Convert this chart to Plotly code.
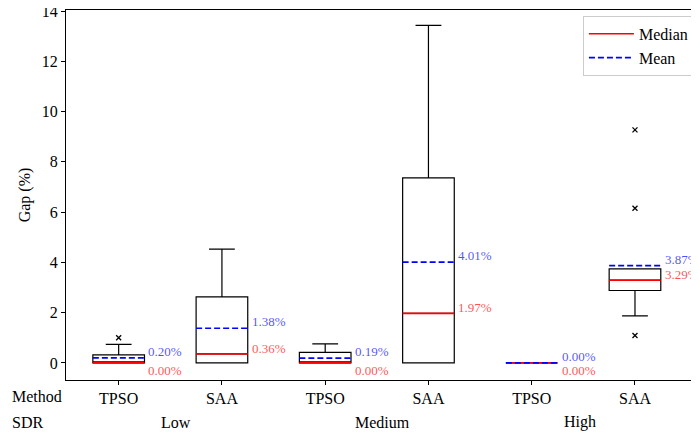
import plotly.graph_objects as go

# ---- data ----
methods = ["TPSO", "SAA", "TPSO", "SAA", "TPSO", "SAA"]
sdr_levels = ["Low", "Medium", "High"]
positions = [1, 2, 3, 4, 5, 6]
q1 = [0.00, 0.00, 0.00, 0.00, 0.00, 2.88]
q3 = [0.32, 2.63, 0.42, 7.36, 0.00, 3.74]
lower_whisker = [0.00, 0.00, 0.00, 0.00, 0.00, 1.87]
upper_whisker = [0.74, 4.53, 0.76, 13.43, 0.00, 3.74]
medians = [0.00, 0.36, 0.00, 1.97, 0.00, 3.29]
means = [0.20, 1.38, 0.19, 4.01, 0.00, 3.87]
outlier_pos = [1, 6, 6, 6]
outlier_val = [1.00, 1.09, 6.15, 9.27]

FONT = "Liberation Serif"
FS = 16
LFS = 13
BOX_W = 0.5
GROUP_SHIFT = [6, 6, -3]

fig = go.Figure()

fig.add_trace(go.Box(
    x=positions, q1=q1, median=medians, q3=q3,
    lowerfence=lower_whisker, upperfence=upper_whisker,
    width=BOX_W, whiskerwidth=0.5,
    line=dict(color="black", width=1.2),
    fillcolor="rgba(0,0,0,0)",
    showlegend=False, hoverinfo="skip", boxpoints=False,
))

fig.add_trace(go.Scatter(
    x=outlier_pos, y=outlier_val, mode="markers",
    marker=dict(symbol="x-thin", size=5, line=dict(color="black", width=1.3), color="black"),
    showlegend=False, hoverinfo="skip",
))

# median and mean lines
for i, p in enumerate(positions):
    fig.add_trace(go.Scatter(
        x=[p - BOX_W / 2, p + BOX_W / 2], y=[medians[i], medians[i]],
        mode="lines", line=dict(color="red", width=1.6),
        name="Median", legendgroup="median", showlegend=(i == 0), hoverinfo="skip",
    ))
for i, p in enumerate(positions):
    fig.add_trace(go.Scatter(
        x=[p - BOX_W / 2, p + BOX_W / 2], y=[means[i], means[i]],
        mode="lines", line=dict(color="blue", width=1.6, dash="6px,3px"),
        name="Mean", legendgroup="mean", showlegend=(i == 0), hoverinfo="skip",
    ))

annotations = []
for i, p in enumerate(positions):
    annotations.append(dict(
        x=p + BOX_W / 2, y=means[i], xref="x", yref="y",
        text=f"{means[i]:.2f}%", showarrow=False,
        xanchor="left", yanchor="bottom", xshift=2, yshift=-3,
        font=dict(family=FONT, size=LFS, color="rgba(0,0,255,0.7)"),
    ))
    below = medians[i] == 0
    annotations.append(dict(
        x=p + BOX_W / 2, y=medians[i], xref="x", yref="y",
        text=f"{medians[i]:.2f}%", showarrow=False,
        xanchor="left", yanchor="top" if below else "bottom",
        xshift=2, yshift=2 if below else -4,
        font=dict(family=FONT, size=LFS, color="rgba(255,0,0,0.7)"),
    ))

annotations.append(dict(
    x=-0.0885, y=0, xref="paper", yref="paper", text="Method", showarrow=False,
    xanchor="left", yanchor="middle", yshift=-16,
    font=dict(family=FONT, size=FS, color="black"),
))
annotations.append(dict(
    x=-0.0885, y=0, xref="paper", yref="paper", text="SDR", showarrow=False,
    xanchor="left", yanchor="middle", yshift=-42,
    font=dict(family=FONT, size=FS, color="black"),
))
for j, lvl in enumerate(sdr_levels):
    mid = (positions[2 * j] + positions[2 * j + 1]) / 2
    annotations.append(dict(
        x=mid, y=0, xref="x", yref="paper", text=lvl, showarrow=False,
        xanchor="center", yanchor="middle", xshift=GROUP_SHIFT[j], yshift=-42,
        font=dict(family=FONT, size=FS, color="black"),
    ))

# page body adds an 8px offset, so the figure is sized to the visible area
fig.update_layout(
    width=691, height=426,
    margin=dict(l=58, r=0, t=2, b=54, autoexpand=False),
    plot_bgcolor="white", paper_bgcolor="white",
    font=dict(family=FONT, size=FS, color="black"),
    annotations=annotations,
    legend=dict(
        x=0.992, y=0.984, xanchor="right", yanchor="top",
        bordercolor="#cccccc", borderwidth=1, bgcolor="rgba(255,255,255,0.8)",
        font=dict(family=FONT, size=FS), tracegroupgap=0,
        itemwidth=45,
    ),
    xaxis=dict(
        range=[0.49, 6.62], tickvals=positions, ticktext=methods,
        showgrid=False, zeroline=False, showline=True, linecolor="black", linewidth=1.2,
        mirror=True, ticks="outside", ticklen=4, tickcolor="black", automargin=False,
    ),
    yaxis=dict(
        range=[-0.68, 14.04], tickvals=list(range(0, 15, 2)),
        showgrid=False, zeroline=False, showline=True, linecolor="black", linewidth=1.2,
        ticks="outside", ticklen=4, tickcolor="black", automargin=False,
        ticklabeloverflow="allow",
        title=dict(text="Gap (%)", font=dict(family=FONT, size=FS), standoff=7),
    ),
)

fig.write_html("out.html")
